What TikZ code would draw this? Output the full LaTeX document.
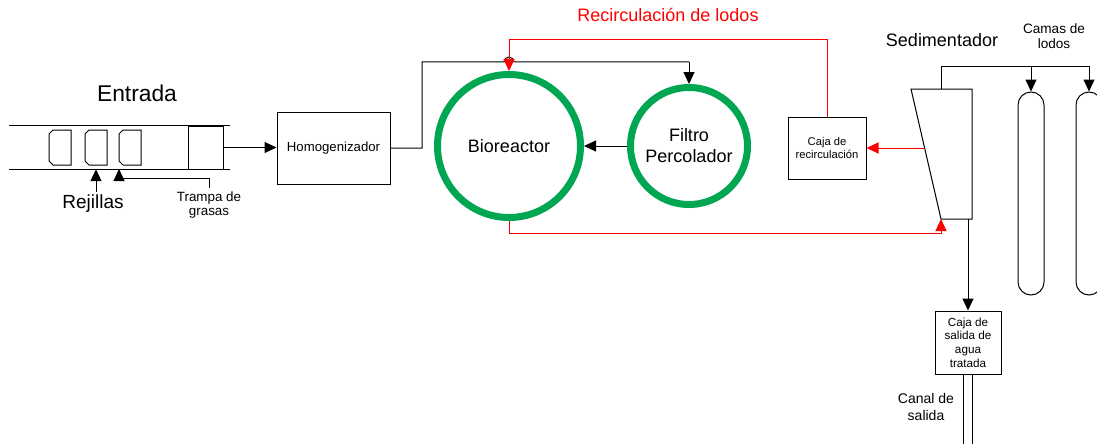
\documentclass[tikz,border=0pt]{standalone}
\usepackage{fontspec}
\setmainfont{Liberation Sans}
\usetikzlibrary{arrows.meta}
\definecolor{verde}{RGB}{0,166,81}
\tikzset{
  caja/.style={draw, line width=1pt, align=center, inner sep=1pt},
  reactor/.style={circle, draw=verde, line width=7pt, align=center},
  flecha/.style={-{Triangle[length=12pt,width=11pt]}, line width=1pt},
  lodo/.style={red, line width=1pt},
  cama/.style={draw, line width=1pt, rounded corners=13pt, minimum width=26pt, minimum height=203pt}
}
\newcommand{\tam}[2]{\fontsize{#1}{#2}\selectfont}

\begin{document}
\begin{tikzpicture}[x=1pt,y=-1pt]
\clip (0,0) rectangle (1097,444);
% canal de entrada
\node[minimum width=221pt, minimum height=43pt, inner sep=0pt] (canal) at (119.5,147.5) {};
\draw[line width=1pt] (canal.north west) -- (canal.north east);
\draw[line width=1pt] (canal.south west) -- (canal.south east);
\node[draw, line width=1pt, minimum width=35pt, minimum height=43pt, inner sep=0pt] (trampa) at (205.5,147.5) {};
\foreach \r in {49,85,119}
  \draw[line width=1pt] (\r+4,130) -- (\r+22,130) -- (\r+22,165) -- (\r+4,165) -- (\r,161) -- (\r,134) -- cycle;
\coordinate (g3) at (119,169);

\node[font=\tam{22.8}{26}] (entrada) at (137,93) {Entrada};
\node[font=\tam{19}{22}] (rejillas) at (93,204) {Rejillas};
\node[font=\tam{13.4}{14}, align=center] (ttrampa) at (209,205) {Trampa de\\grasas};

\node[caja, minimum width=113pt, minimum height=72pt, font=\tam{13.2}{15}] (homo) at (333.5,148) {Homogenizador};
\node[reactor, minimum size=143pt, font=\tam{18}{21}] (bio) at (509,146) {Bioreactor};
\node[reactor, minimum size=117pt, font=\tam{18}{21}] (filtro) at (689,146) {Filtro\\Percolador};
\node[caja, minimum width=78pt, minimum height=62pt, font=\tam{11.2}{13}] (recirc) at (827,148) {Caja de\\recirculación};
\node[caja, minimum width=66pt, minimum height=63pt, font=\tam{11.7}{13.7}] (salida) at (968,342.5) {Caja de\\salida de\\agua\\tratada};
\node[cama] (cama1) at (1031,193.5) {};
\node[cama] (cama2) at (1089,193.5) {};

% sedimentador
\coordinate (sedTL) at (911,89);
\coordinate (sedTR) at (972,89);
\coordinate (sedBR) at (972,219);
\coordinate (sedBL) at (941,219);
\coordinate (sedL) at (924.6,148);
\draw[line width=1pt] (sedTL) -- (sedTR) -- (sedBR) -- (sedBL) -- cycle;

\node[red, font=\tam{18}{21}] (trecirc) at (668,15) {Recirculación de lodos};
\node[font=\tam{18}{21}] (tsed) at (942,40) {Sedimentador};
\node[font=\tam{13.6}{15}, align=center] (tcamas) at (1054,36.5) {Camas de\\lodos};
\node[font=\tam{14}{17}, align=center] (tcanal) at (926,406.5) {Canal de\\salida};

\coordinate (cruce) at (509,62);
\draw[flecha] (trampa.east) -- (homo.west |- trampa.east);
\draw[flecha] ([xshift=3pt]rejillas.north) -- ([xshift=3pt]rejillas.north |- canal.south);
\draw[flecha] (ttrampa.north) |- ([yshift=-9pt]g3) -- (g3);
\draw[line width=1pt] (homo.east) -| ([xshift=-87pt]cruce) -- ([xshift=-5pt]cruce)
  arc[start angle=180, end angle=0, radius=5pt] -- (cruce -| filtro.north);
\draw[flecha] (cruce -| filtro.north) -- (filtro.north);
\draw[flecha] (filtro.west) -- (bio.east);
\draw[lodo, flecha] (recirc.north) -- (recirc.north |- 0,40) -| (bio.north);
\draw[lodo, flecha] (bio.south) -- ++(0,12) -| (sedBL);
\draw[lodo, flecha] (sedL) -- (sedL -| recirc.east);
\draw[flecha] (941,89) -- ++(0,-22) -| (cama2.north);
\draw[flecha] (cama1.north |- 0,67) -- (cama1.north);
\draw[flecha] (salida.north |- sedBR) -- (salida.north);
\draw[line width=1pt] ([xshift=-5pt]salida.south) -- ++(0,80);
\draw[line width=1pt] ([xshift=4pt]salida.south) -- ++(0,80);
\end{tikzpicture}
\end{document}
